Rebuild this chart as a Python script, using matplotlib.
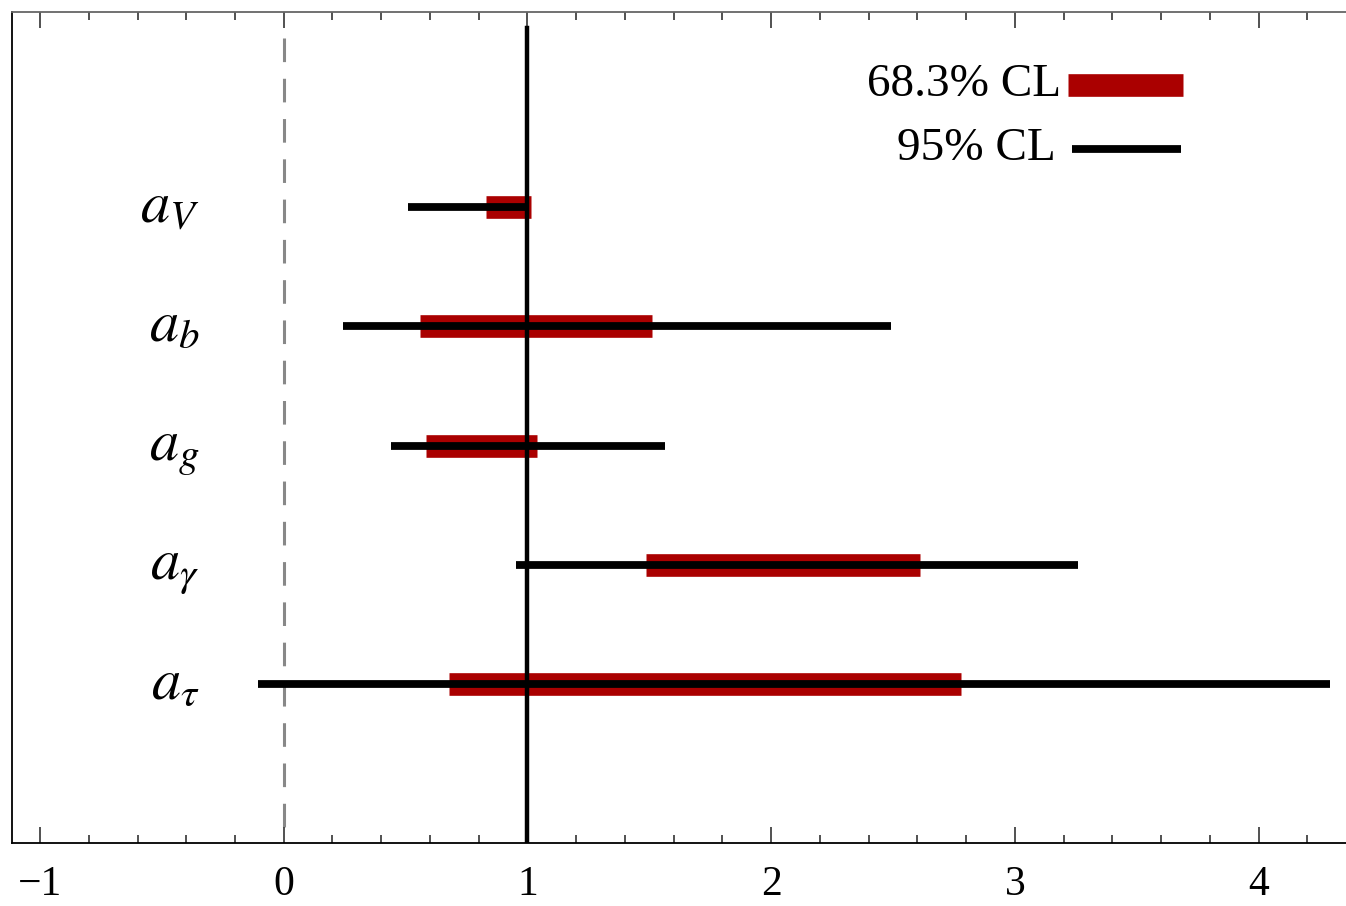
import numpy as np
import matplotlib
matplotlib.use("Agg")
import matplotlib.pyplot as plt

plt.rcParams['font.family'] = ['Liberation Serif', 'DejaVu Serif']
plt.rcParams['mathtext.fontset'] = 'stix'
plt.rcParams['lines.scale_dashes'] = False

# coupling labels, top to bottom
labels = [r'$a_V$', r'$a_b$', r'$a_g$', r'$a_\gamma$', r'$a_\tau$']
# 68.3% CL intervals
lo68 = [0.83, 0.56, 0.585, 1.485, 0.68]
hi68 = [1.015, 1.51, 1.04, 2.61, 2.78]
# 95% CL intervals
lo95 = [0.51, 0.245, 0.44, 0.955, -0.105]
hi95 = [1.0, 2.49, 1.565, 3.26, 4.295]

red = '#aa0000'
rows = np.arange(len(labels))[::-1] + 1

fig = plt.figure(figsize=(13.46, 9.06), dpi=100)
ax = fig.add_axes([12/1346, 63/906, 1 - 12/1346, (843 - 12)/906])

# reference lines
ax.plot([0, 0], [6.42, -0.34], color='#888888', lw=2.2, dashes=(17, 12), zorder=1)

for y, lab, a, b, c, d in zip(rows, labels, lo68, hi68, lo95, hi95):
  ax.plot([a, b], [y, y], color=red, lw=16.3, solid_capstyle='butt', zorder=2)
  ax.plot([c, d], [y, y], color='black', lw=5.6, solid_capstyle='butt', zorder=3)
  ax.text(-0.345, y - 0.125, lab, ha='right', va='baseline', fontsize=42)

ax.plot([1, 1], [-0.34, 6.5], color='black', lw=3.2, zorder=4)

# legend
ax.plot([3.22, 3.69], [6.02, 6.02], color=red, lw=16.3, solid_capstyle='butt')
ax.plot([3.235, 3.68], [5.49, 5.49], color='black', lw=5.6, solid_capstyle='butt')
ax.text(3.19, 5.93, '68.3% CL', ha='right', va='baseline', fontsize=34)
ax.text(3.168, 5.394, '95% CL', ha='right', va='baseline', fontsize=34)

ax.set_xlim(-1.115, 4.359)
ax.set_ylim(-0.333, 6.635)
ax.set_xticks([-1, 0, 1, 2, 3, 4])
ax.set_xticklabels(['\u22121', '0', '1', '2', '3', '4'], fontsize=30)
ax.set_xticks(np.arange(-1, 4.4, 0.2), minor=True)
ax.set_yticks([])
ax.tick_params(axis='x', which='both', direction='in', top=True, color='#333333', width=1.2)
ax.tick_params(axis='x', which='major', length=11.5, pad=16)
ax.tick_params(axis='x', which='minor', length=5.8)
ax.spines['right'].set_visible(False)
for s in ['left', 'bottom']:
  ax.spines[s].set_linewidth(1.3)
ax.spines['top'].set_color('#666666')
ax.spines['top'].set_linewidth(1.3)

fig.savefig('out.png', dpi=100)
